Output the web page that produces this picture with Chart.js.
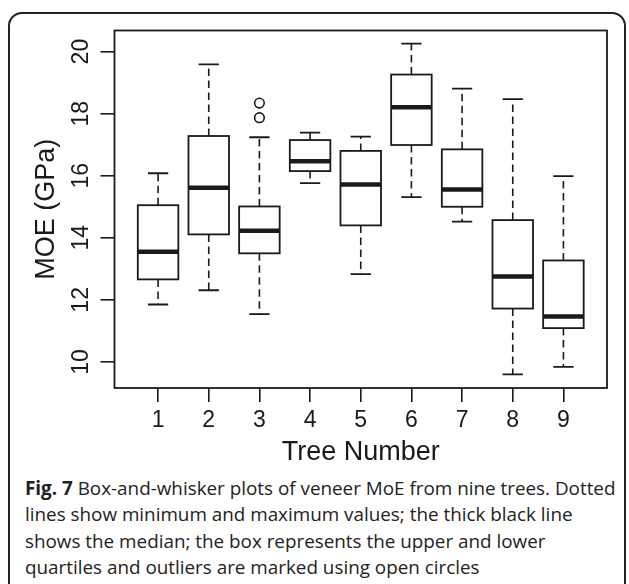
<!DOCTYPE html>
<html>
<head>
<meta charset="utf-8">
<script src="https://cdn.jsdelivr.net/npm/chart.js@4/dist/chart.umd.min.js"></script>
<style>
  html, body { margin:0; padding:0; background:#fff; width:629px; height:584px; overflow:hidden; }
  #frame { position:absolute; left:8px; top:12px; width:614px; height:800px; border:2px solid #222; border-radius:14px; box-sizing:content-box; }
  #wrap { position:absolute; left:0; top:0; width:629px; height:470px; }
  #caption { position:absolute; left:25px; top:475px; font-family:"Open Sans", sans-serif; font-size:18.85px; line-height:26.4px; color:#222; white-space:nowrap; }
  #caption b { font-weight:700; }
</style>
</head>
<body>
<div id="frame"></div>
<div id="wrap"><canvas id="c" width="629" height="470"></canvas></div>
<div id="caption"><b>Fig. 7</b> Box-and-whisker plots of veneer MoE from nine trees. Dotted<br>lines show minimum and maximum values; the thick black line<br>shows the median; the box represents the upper and lower<br>quartiles and outliers are marked using open circles</div>
<script>
// ---- data ----
const trees = [1, 2, 3, 4, 5, 6, 7, 8, 9];
const xTickLabels = ['1', '2', '3', '4', '5', '6', '7', '8', '9'];
const yTickValues = [10, 12, 14, 16, 18, 20];
const yTickLabels = ['10', '12', '14', '16', '18', '20'];
const minVals = [11.85, 12.31, 11.54, 15.76, 12.83, 15.31, 14.52, 9.60, 9.84];
const q1Vals  = [12.66, 14.11, 13.50, 16.15, 14.40, 16.99, 15.00, 11.72, 11.09];
const medVals = [13.55, 15.61, 14.23, 16.47, 15.72, 18.21, 15.56, 12.75, 11.46];
const q3Vals  = [15.05, 17.28, 15.01, 17.15, 16.80, 19.26, 16.85, 14.57, 13.27];
const maxVals = [16.08, 19.59, 17.24, 17.39, 17.26, 20.26, 18.81, 18.47, 15.99];
const outlierTrees = [3, 3];
const outlierVals = [18.34, 17.87];

const INK = '#1a1a1a';

const boxPlugin = {
  id: 'boxes',
  afterDatasetsDraw(chart) {
    const {ctx, chartArea, scales: {x, y}} = chart;
    ctx.save();
    ctx.strokeStyle = INK;
    trees.forEach((t, i) => {
      const xc = x.getPixelForValue(t);
      const xl = x.getPixelForValue(t - 0.4);
      const xr = x.getPixelForValue(t + 0.4);
      const cl = x.getPixelForValue(t - 0.2);
      const cr = x.getPixelForValue(t + 0.2);
      const pMin = y.getPixelForValue(minVals[i]);
      const pQ1 = y.getPixelForValue(q1Vals[i]);
      const pMed = y.getPixelForValue(medVals[i]);
      const pQ3 = y.getPixelForValue(q3Vals[i]);
      const pMax = y.getPixelForValue(maxVals[i]);
      // whiskers (dashed)
      ctx.lineWidth = 1.6;
      ctx.setLineDash([7.5, 4.5]);
      ctx.beginPath();
      ctx.moveTo(xc, pQ1); ctx.lineTo(xc, pMin);
      ctx.moveTo(xc, pQ3); ctx.lineTo(xc, pMax);
      ctx.stroke();
      ctx.setLineDash([]);
      // caps
      ctx.lineWidth = 1.8;
      ctx.beginPath();
      ctx.moveTo(cl, pMin); ctx.lineTo(cr, pMin);
      ctx.moveTo(cl, pMax); ctx.lineTo(cr, pMax);
      ctx.stroke();
      // box
      ctx.lineWidth = 1.8;
      ctx.fillStyle = '#fff';
      ctx.fillRect(xl, pQ3, xr - xl, pQ1 - pQ3);
      ctx.strokeRect(xl, pQ3, xr - xl, pQ1 - pQ3);
      // median
      ctx.lineWidth = 4.5;
      ctx.beginPath();
      ctx.moveTo(xl, pMed); ctx.lineTo(xr, pMed);
      ctx.stroke();
    });
    // plot frame
    ctx.lineWidth = 1.8;
    ctx.strokeRect(chartArea.left, chartArea.top, chartArea.right - chartArea.left, chartArea.bottom - chartArea.top);
    ctx.restore();
  }
};

new Chart(document.getElementById('c'), {
  type: 'scatter',
  data: {
    datasets: [{
      label: 'outliers',
      data: outlierTrees.map((t, i) => ({x: t, y: outlierVals[i]})),
      pointStyle: 'circle',
      pointRadius: 4.8,
      pointBorderWidth: 1.6,
      pointBorderColor: INK,
      pointBackgroundColor: 'rgba(0,0,0,0)'
    }]
  },
  options: {
    responsive: false,
    animation: false,
    events: [],
    layout: { padding: { left: 0, top: 30.5, right: 22, bottom: 0 } },
    plugins: { legend: { display: false }, tooltip: { enabled: false } },
    scales: {
      x: {
        type: 'linear',
        min: 0.14, max: 9.86,
        afterBuildTicks: s => { s.ticks = trees.map(v => ({value: v})); },
        afterFit: s => { s.height = 82; },
        ticks: {
          callback: (v, i) => xTickLabels[i],
          font: { family: '"Liberation Sans", Arial, sans-serif', size: 23 },
          color: INK, padding: 5, maxRotation: 0, autoSkip: false
        },
        grid: { drawOnChartArea: false, drawTicks: true, tickLength: 14, color: INK, lineWidth: 1.6 },
        border: { display: false },
        title: {
          display: true, text: 'Tree Number', color: INK,
          font: { family: '"Liberation Sans", Arial, sans-serif', size: 27 },
          padding: { top: 0, bottom: 1 }
        }
      },
      y: {
        type: 'linear',
        min: 9.16, max: 20.68,
        afterBuildTicks: s => { s.ticks = yTickValues.map(v => ({value: v})); },
        afterFit: s => { s.width = 114.5; },
        ticks: {
          callback: (v, i) => yTickLabels[i],
          font: { family: '"Liberation Sans", Arial, sans-serif', size: 23 },
          color: INK, padding: 6, minRotation: 90, maxRotation: 90, crossAlign: 'center', autoSkip: false
        },
        grid: { drawOnChartArea: false, drawTicks: true, tickLength: 14, color: INK, lineWidth: 1.6 },
        border: { display: false },
        title: {
          display: true, text: 'MOE (GPa)', color: INK,
          font: { family: '"Liberation Sans", Arial, sans-serif', size: 27 },
          padding: { top: 30, bottom: 0 }
        }
      }
    }
  },
  plugins: [boxPlugin]
});
</script>
</body>
</html>
